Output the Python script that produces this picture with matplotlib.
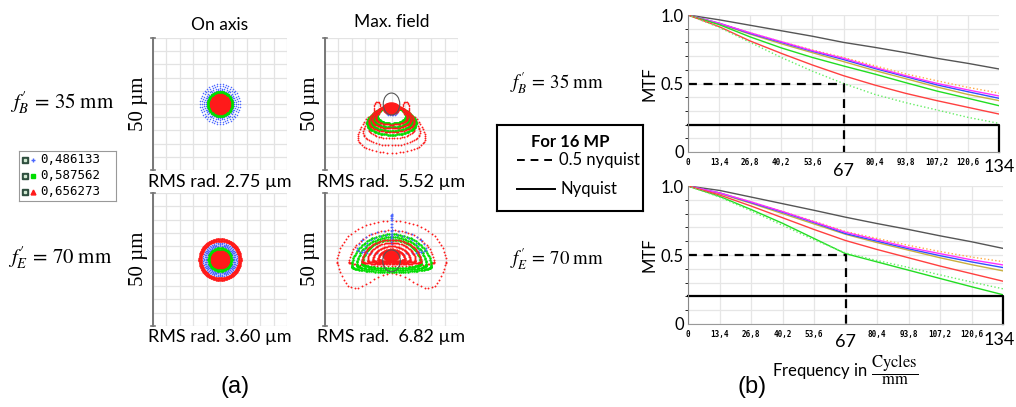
import numpy as np
import matplotlib.pyplot as plt
from matplotlib.patches import Ellipse

plt.rcParams['font.family'] = ['Lato', 'DejaVu Sans']
plt.rcParams['mathtext.fontset'] = 'stix'

W, H = 1016, 407

# ---------------- MTF data ----------------
freq = [0, 13.4, 26.8, 40.2, 53.6, 67, 80.4, 93.8, 107.2, 120.6, 134]
freq_labels = ['0', '13,4', '26,8', '40,2', '53,6', '', '80,4', '93,8', '107,2', '120,6']

mtf35_black = [1.0, 0.965, 0.925, 0.885, 0.845, 0.80, 0.764, 0.725, 0.684, 0.647, 0.606]
mtf35_orange = [1.0, 0.94, 0.87, 0.805, 0.745, 0.69, 0.63, 0.57, 0.52, 0.472, 0.43]
mtf35_magenta = [1.0, 0.94, 0.87, 0.805, 0.74, 0.684, 0.618, 0.557, 0.501, 0.453, 0.409]
mtf35_blue = [1.0, 0.94, 0.865, 0.80, 0.735, 0.675, 0.61, 0.55, 0.49, 0.44, 0.392]
mtf35_olive = [1.0, 0.935, 0.86, 0.79, 0.725, 0.66, 0.595, 0.535, 0.475, 0.42, 0.375]
mtf35_green = [1.0, 0.93, 0.84, 0.76, 0.69, 0.628, 0.569, 0.506, 0.445, 0.392, 0.338]
mtf35_red = [1.0, 0.915, 0.81, 0.72, 0.635, 0.557, 0.489, 0.428, 0.375, 0.326, 0.277]
mtf35_green_dot = [1.0, 0.91, 0.80, 0.69, 0.59, 0.50, 0.421, 0.36, 0.307, 0.253, 0.209]

mtf70_black = [1.0, 0.968, 0.92, 0.872, 0.824, 0.774, 0.728, 0.685, 0.639, 0.596, 0.548]
mtf70_orange = [1.0, 0.95, 0.885, 0.815, 0.745, 0.67, 0.62, 0.57, 0.525, 0.485, 0.452]
mtf70_magenta = [1.0, 0.95, 0.885, 0.815, 0.74, 0.665, 0.61, 0.555, 0.51, 0.465, 0.428]
mtf70_blue = [1.0, 0.95, 0.88, 0.81, 0.735, 0.655, 0.60, 0.545, 0.495, 0.45, 0.409]
mtf70_olive = [1.0, 0.945, 0.875, 0.80, 0.725, 0.65, 0.59, 0.535, 0.48, 0.43, 0.385]
mtf70_red = [1.0, 0.935, 0.855, 0.77, 0.685, 0.605, 0.54, 0.48, 0.42, 0.365, 0.31]
mtf70_green = [1.0, 0.925, 0.83, 0.73, 0.62, 0.51, 0.45, 0.39, 0.33, 0.27, 0.212]
mtf70_green_dot = [1.0, 0.92, 0.82, 0.715, 0.61, 0.515, 0.46, 0.41, 0.356, 0.304, 0.255]

half_nyquist = 67
nyquist = 134
half_nyq_mtf = 0.5
nyq_mtf = 0.2

# ---------------- spot diagram data (µm) ----------------
wavelengths = ['0,486133', '0,587562', '0,656273']
rms_35 = ['RMS rad. 2.75 µm', 'RMS rad.  5.52 µm']
rms_70 = ['RMS rad. 3.60 µm', 'RMS rad.  6.82 µm']

# on-axis ring radii
oa35_blue = [7.5, 6.7, 5.9, 5.2]
oa35_green = [4.5, 4.2, 3.9, 3.6]
oa35_red = [3.3, 2.8, 2.3, 1.8, 1.3, 0.8, 0.3]
oa70_blue = [6.3, 5.8, 5.3, 4.9]
oa70_green = [4.3, 3.7]
oa70_red_out = [7.7, 7.1]
oa70_red = [3.0, 2.5, 2.0, 1.5, 1.0, 0.5]

# max-field rings: (centre y, half width, top, bottom, flare, dip, centre x)
mf35_red_dot = [(-10.5, 12.3, 10.0, 8.0, 3.3, 0, 0), (-9.0, 10.3, 8.5, 6.7, 2.6, 0, 0),
                (-7.6, 8.6, 7.2, 5.4, 1.9, 0, 0)]
mf35_green = [(-6.8, 9.0, 5.5, 4.8, 1.0, 0, 0), (-6.0, 7.8, 4.8, 4.2, 0.8, 0, 0),
              (-5.2, 6.6, 4.2, 3.6, 0.6, 0, 0), (-4.4, 5.4, 3.6, 3.0, 0.4, 0, 0)]
mf35_red = [(-6.4, 8.4, 5.6, 4.2, 0.9, 0, 0), (-5.6, 7.2, 4.8, 3.6, 0.7, 0, 0),
            (-4.8, 6.0, 4.0, 3.0, 0.5, 0, 0)]
mf35_ears = [(-1.6, 1.3, 2.4, 2.4, 0, 0, -5.4), (-1.6, 1.3, 2.4, 2.4, 0, 0, 5.4)]
mf35_blue = [(-3.2, 2.0, 1.0, 1.0, 0, 0, 0)]
mf35_blob = (0, -1.8, 6.2, 4.4)
mf35_airy = (0, 0, 6.2, 8.3)

mf70_red_dot = [(-0.8, 20.5, 15.5, 4.4, 0, 6.7, 0), (-1.0, 16.0, 12.0, 1.5, 0.5, 0, 0)]
mf70_blue = [(3.5, 13.0, 7.5, 1.0, 0, 0, 0), (3.0, 10.5, 6.5, 1.0, 0, 0, 0),
             (10.0, 0.3, 7.0, 4.0, 0, 0, 0)]
mf70_green = [(-2.5, 15.0, 12.0, 2.2, 0.5, 0, 0), (-2.0, 13.0, 10.5, 2.0, 0.4, 0, 0),
              (-1.5, 11.0, 9.0, 1.8, 0.3, 0, 0)]
mf70_red = [(-0.8, 11.0, 8.3, 1.0, 0, 0, 0), (-0.5, 9.0, 6.8, 0.9, 0, 0, 0),
            (-0.3, 7.0, 5.3, 0.8, 0, 0, 0), (0.0, 5.0, 3.8, 0.6, 0, 0, 0)]
mf70_blob = (0, 1.5, 6.4, 4.4)
mf70_airy = (0, -0.5, 6.6, 8.2)

BLUE, GREEN, RED = '#4a66ff', '#00dd00', '#ff1a1a'


def rect(x0, y0, x1, y1):
    return [x0 / W, 1 - y1 / H, (x1 - x0) / W, (y1 - y0) / H]


def ring(yc, a, bt, bb, g=0.0, d=0.0, xc=0.0, n=60):
    t = np.linspace(0, 2 * np.pi, n, endpoint=False)
    c = np.cos(t)
    x = xc + np.sin(t) * (a - g * c)
    y = yc + np.where(c > 0, bt, bb) * c - np.where(c < 0, d, 0) * np.sin(2 * t) ** 2
    return x, y


fig = plt.figure(figsize=(W / 100, H / 100), dpi=100)


def spot_axes(box):
    ax = fig.add_axes(rect(*box))
    ax.set_xlim(-25, 25)
    ax.set_ylim(-25, 25)
    ticks = np.linspace(-25, 25, 11)
    ax.set_xticks(ticks)
    ax.set_yticks(ticks)
    ax.tick_params(length=0, labelbottom=False, labelleft=False)
    ax.grid(color='#e3e3e3', lw=0.9)
    for s in ax.spines.values():
        s.set_visible(False)
    ax.plot([-25, -25], [-25, 25], color='#777777', lw=1.4, clip_on=False)
    ax.plot([-25.8, -24.2], [25, 25], color='#777777', lw=1.2, clip_on=False)
    ax.plot([-25.8, -24.2], [-25, -25], color='#777777', lw=1.2, clip_on=False)
    return ax


def draw_rings(ax, params, color, ms, n, marker='o'):
    for p in params:
        x, y = ring(*p, n=n)
        ax.plot(x, y, ls='none', marker=marker, ms=ms, color=color, mew=0.4)


def circles(radii):
    return [(0, r, r, r) for r in radii]


# ---- on axis 35
ax = spot_axes((153, 38, 287, 170))
draw_rings(ax, circles(oa35_blue), BLUE, 0.7, 44)
draw_rings(ax, circles(oa35_green), GREEN, 1.6, 90)
draw_rings(ax, circles(oa35_red), RED, 2.0, 60)
ax.set_title('On axis', fontsize=12.5, pad=6)

# ---- max field 35
ax = spot_axes((325, 38, 458, 170))
draw_rings(ax, mf35_red_dot, RED, 0.9, 64)
draw_rings(ax, mf35_green, GREEN, 1.5, 90)
draw_rings(ax, mf35_red, RED, 0.9, 110)
draw_rings(ax, mf35_ears, RED, 0.7, 30)
draw_rings(ax, mf35_blue, BLUE, 0.8, 20)
ax.add_patch(Ellipse(mf35_blob[:2], mf35_blob[2], mf35_blob[3], color=RED, zorder=3))
ax.add_patch(Ellipse(mf35_airy[:2], mf35_airy[2], mf35_airy[3], fill=False, ec='#555555', lw=0.8, zorder=4))
ax.set_title('Max. field', fontsize=12.5, pad=8)

# ---- on axis 70
ax = spot_axes((153, 193, 287, 326))
draw_rings(ax, circles(oa70_blue), BLUE, 0.8, 50)
draw_rings(ax, circles(oa70_green), GREEN, 1.0, 120)
draw_rings(ax, circles(oa70_red_out), RED, 1.1, 160)
draw_rings(ax, circles(oa70_red), RED, 2.0, 60)

# ---- max field 70
ax = spot_axes((325, 193, 458, 326))
draw_rings(ax, mf70_red_dot, RED, 0.9, 76)
draw_rings(ax, mf70_green, GREEN, 1.3, 110)
draw_rings(ax, mf70_blue, BLUE, 0.9, 30)
draw_rings(ax, mf70_blue[:1], BLUE, 3.5, 6, marker='+')
draw_rings(ax, mf70_red, RED, 0.9, 130)
ax.add_patch(Ellipse(mf70_blob[:2], mf70_blob[2], mf70_blob[3], color=RED, zorder=3))
ax.add_patch(Ellipse(mf70_airy[:2], mf70_airy[2], mf70_airy[3], fill=False, ec='#555555', lw=0.8, zorder=4))

# ---- spot labels
for y in (104, 259):
    for x in (139, 311):
        fig.text(x / W, 1 - y / H, '50 µm', rotation=90, ha='center', va='center',
                 family='Liberation Serif', fontsize=15)
for x, txt in zip((220, 391), rms_35):
    fig.text(x / W, 1 - 182 / H, txt, ha='center', va='center', fontsize=13)
for x, txt in zip((220, 391), rms_70):
    fig.text(x / W, 1 - 337 / H, txt, ha='center', va='center', fontsize=13)

lab35 = r"$f_B^{\prime}\,=\,35\ \mathrm{mm}$"
lab70 = r"$f_E^{\prime}\,=\,70\ \mathrm{mm}$"
fig.text(10 / W, 1 - 103 / H, lab35, ha='left', va='center', fontsize=15)
fig.text(8 / W, 1 - 258 / H, lab70, ha='left', va='center', fontsize=15)
fig.text(510 / W, 1 - 83 / H, lab35, ha='left', va='center', fontsize=13.5)
fig.text(510 / W, 1 - 259 / H, lab70, ha='left', va='center', fontsize=13.5)

# ---- wavelength legend
lax = fig.add_axes(rect(19, 151, 116, 201))
lax.set_xlim(0, 97)
lax.set_ylim(50, 0)
lax.set_xticks([])
lax.set_yticks([])
for s in lax.spines.values():
    s.set_color('#999999')
for i, (wl, col, mk) in enumerate(zip(wavelengths, [BLUE, GREEN, RED], ['+', 's', '^'])):
    yy = 9 + i * 16
    lax.plot(6, yy, marker='s', ms=5, color='#2f4f3f')
    lax.plot(6, yy, marker='s', ms=2, color='#d0e8d0')
    lax.plot(14, yy, marker=mk, ms=3.5, color=col, mew=1)
    lax.text(21, yy, wl, va='center', ha='left', family='DejaVu Sans Mono', fontsize=9)

# ---- MTF plots


def mtf_axes(box, curves):
    ax = fig.add_axes(rect(*box))
    ax.set_xlim(0, 134)
    ax.set_ylim(0, 1.0)
    ax.set_xticks(np.arange(0, 134, 13.4))
    ax.set_xticklabels(freq_labels, family='DejaVu Sans Mono', weight='bold', fontsize=5.5)
    ax.set_yticks(np.arange(0, 1.01, 0.1), minor=True)
    ax.set_yticks([0, 0.5, 1.0])
    ax.set_yticklabels(['0', '0.5', '1.0'], fontsize=12)
    ax.tick_params(length=0, pad=3)
    ax.tick_params(axis='x', pad=4)
    ax.grid(which='both', color='#e6e6e6', lw=0.9)
    ax.set_axisbelow(True)
    for s in ('top', 'right'):
        ax.spines[s].set_visible(False)
    ax.spines['left'].set_color('#888888')
    ax.spines['bottom'].set_color('#999999')
    for vals, col, ls in curves:
        ax.plot(freq, vals, color=col, lw=1.0, ls=ls)
    ax.plot([0, half_nyquist, half_nyquist], [half_nyq_mtf, half_nyq_mtf, 0], color='black',
            lw=1.6, dashes=(4, 3), clip_on=False)
    ax.plot([0, nyquist, nyquist], [nyq_mtf, nyq_mtf, 0], color='black', lw=1.6, clip_on=False)
    ax.set_ylabel('MTF', fontsize=12, labelpad=2)
    return ax


curves35 = [(mtf35_black, '#555555', '-'), (mtf35_orange, '#ffaa44', ':'),
            (mtf35_olive, '#c8b040', '-'), (mtf35_blue, '#3050ff', '-'),
            (mtf35_magenta, '#ff30ff', '-'), (mtf35_green, '#22dd22', '-'),
            (mtf35_red, '#ff4040', '-'), (mtf35_green_dot, '#66ee66', ':')]
curves70 = [(mtf70_black, '#555555', '-'), (mtf70_orange, '#ffaa44', ':'),
            (mtf70_olive, '#c8b040', '-'), (mtf70_blue, '#3050ff', '-'),
            (mtf70_magenta, '#ff30ff', '-'), (mtf70_green, '#22dd22', '-'),
            (mtf70_red, '#ff4040', '-'), (mtf70_green_dot, '#66ee66', ':')]

ax1 = mtf_axes((688, 15, 999, 152), curves35)
ax2 = mtf_axes((688, 186, 1003, 324), curves70)
ax1.text(half_nyquist, -0.08, '67', transform=ax1.get_xaxis_transform(), ha='center', va='top', fontsize=13)
ax1.text(nyquist, -0.05, '134', transform=ax1.get_xaxis_transform(), ha='center', va='top', fontsize=13)
ax2.text(half_nyquist, -0.075, '67', transform=ax2.get_xaxis_transform(), ha='center', va='top', fontsize=13)
ax2.text(132.5, -0.06, '134', transform=ax2.get_xaxis_transform(), ha='center', va='top', fontsize=13)
ax2.text(67, -0.21, r'Frequency in $\dfrac{\mathrm{Cycles}}{\mathrm{mm}}$', transform=ax2.get_xaxis_transform(),
         ha='center', va='top', fontsize=12)

# ---- nyquist legend box
bax = fig.add_axes(rect(497, 125, 643, 211))
bax.set_xlim(0, 146)
bax.set_ylim(86, 0)
bax.set_xticks([])
bax.set_yticks([])
for s in bax.spines.values():
    s.set_linewidth(1.5)
bax.text(73, 17, 'For 16 MP', ha='center', va='center', fontsize=12, weight='bold')
bax.plot([20, 58], [35, 35], color='black', lw=1.4, dashes=(4, 3))
bax.text(62, 35, '0.5 nyquist', ha='left', va='center', fontsize=12)
bax.plot([20, 58], [64, 64], color='black', lw=1.4)
bax.text(64, 64, 'Nyquist', ha='left', va='center', fontsize=12)

fig.text(235 / W, 1 - 387 / H, '(a)', ha='center', va='center', fontsize=17, family='Liberation Sans')
fig.text(752 / W, 1 - 387 / H, '(b)', ha='center', va='center', fontsize=17, family='Liberation Sans')

fig.savefig('out.png', dpi=100)
